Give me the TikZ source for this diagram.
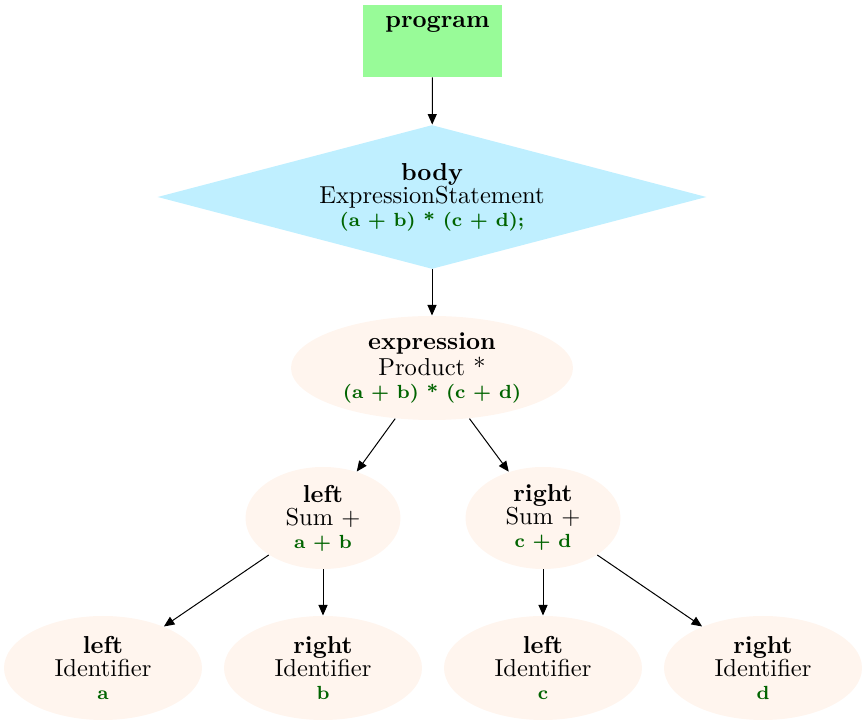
\documentclass[tikz,border=0pt]{standalone}
\usetikzlibrary{shapes.geometric,arrows.meta}

\definecolor{verdeprog}{RGB}{152,251,152}
\definecolor{azulcuerpo}{RGB}{191,239,255}
\definecolor{concha}{RGB}{255,245,238}
\definecolor{verdetexto}{RGB}{0,100,0}
\newcommand{\codigo}[1]{\textcolor{verdetexto}{\fontsize{7.6}{8.6}\selectfont\bfseries #1}}

\begin{document}
\begin{tikzpicture}[x=0.4pt,y=-0.4pt]

	%ESTILOS
	\tikzstyle{every node}=[font=\fontsize{9.8}{9.2}\selectfont]
	\tikzstyle{caja} = [rectangle, fill=verdeprog, minimum width=55.6pt, minimum height=28.8pt, inner sep=0pt]
	\tikzstyle{rombo} = [diamond, aspect=3.8, fill=azulcuerpo, align=center, inner sep=1pt, minimum width=219.6pt, minimum height=57.6pt]
	\tikzstyle{nodo} = [ellipse, fill=concha, align=center, inner sep=0pt, minimum width=62pt, minimum height=40.8pt]
	\tikzstyle{hoja} = [nodo, minimum width=79.2pt, minimum height=41.6pt]
	\tikzstyle{flecha} = [-{Triangle[length=4.2pt,width=3.6pt]}, line width=0.4pt]

	\useasboundingbox (0,0) rectangle (867,724);

	%NODOS
	\draw(432.5,41) node[caja, label={[anchor=north, inner sep=4.5pt, xshift=2pt]north:\textbf{program}}](prog){};
	\draw(432,197) node[rombo](cuerpo){\textbf{body}\\ExpressionStatement\\\codigo{(a + b) * (c + d);}};
	\draw(432,368) node[nodo, minimum width=112.8pt, minimum height=41.6pt](expr){\textbf{expression}\\Product *\\\codigo{(a + b) * (c + d)}};
	\draw(323,518) node[nodo](izq){\textbf{left}\\Sum +\\\codigo{a + b}};
	\draw(543,518) node[nodo](der){\textbf{right}\\Sum +\\\codigo{c + d}};
	\draw(103,668) node[hoja](a){\textbf{left}\\Identifier\\\codigo{a}};
	\draw(323,668) node[hoja](b){\textbf{right}\\Identifier\\\codigo{b}};
	\draw(543,668) node[hoja](c){\textbf{left}\\Identifier\\\codigo{c}};
	\draw(763,668) node[hoja](d){\textbf{right}\\Identifier\\\codigo{d}};

	%FLECHAS
	\draw [flecha] (prog) -- (cuerpo);
	\draw [flecha] (cuerpo) -- (expr);
	\draw [flecha] (expr) -- (izq);
	\draw [flecha] (expr) -- (der);
	\draw [flecha] (izq) -- (a);
	\draw [flecha] (izq) -- (b);
	\draw [flecha] (der) -- (c);
	\draw [flecha] (der) -- (d);
\end{tikzpicture}
\end{document}
